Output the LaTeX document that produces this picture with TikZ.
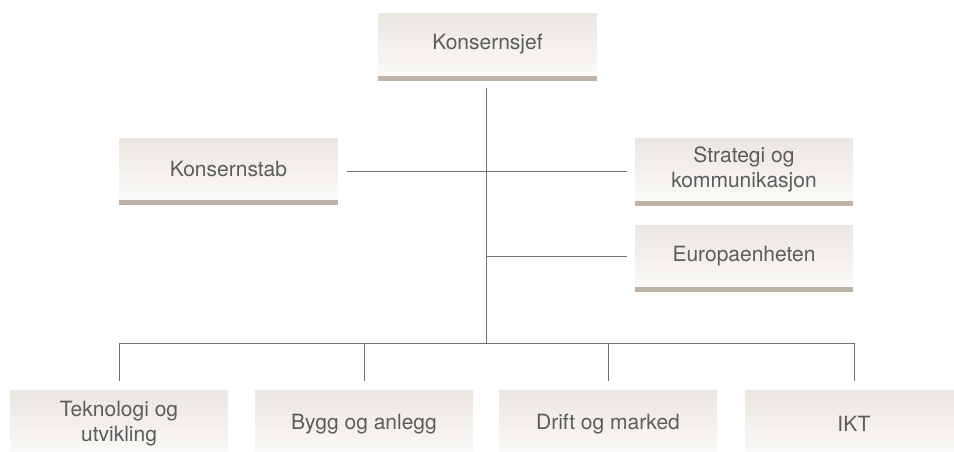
\documentclass[tikz,border=0pt]{standalone}
\usepackage{fontspec}
\setmainfont{TeX Gyre Heros}
\begin{document}
\begin{tikzpicture}[x=1pt,y=-1pt,
  orgbox/.style={minimum width=218pt, minimum height=62pt, inner sep=0pt,
    top color=boxtop, bottom color=boxbot, draw=none, align=center,
    text=txtcol, font=\fontsize{21}{25}\selectfont},
  lowbox/.style={orgbox, minimum height=68pt},
  conn/.style={draw=linecol, line width=0.9pt}]
\definecolor{boxtop}{HTML}{ECE6E1}
\definecolor{boxbot}{HTML}{FBFAF8}
\definecolor{barcol}{HTML}{BEB2A7}
\definecolor{txtcol}{HTML}{5C5C5C}
\definecolor{linecol}{HTML}{707070}
\useasboundingbox (0,0) rectangle (954,451);
\clip (0,0) rectangle (954,451);
% boxes
\node[orgbox] (sjef) at (487.5,44.5) {Konsernsjef};
\node[orgbox] (stab) at (228.5,169) {Konsernstab};
\node[orgbox] (strat) at (744,169.5) {Strategi og\\kommunikasjon};
\node[orgbox] (euro) at (744,256) {Europaenheten};
\node[lowbox] (b1) at (119,424) {Teknologi og\\utvikling};
\node[lowbox] (b2) at (364,424) {Bygg og anlegg};
\node[lowbox] (b3) at (608,424) {Drift og marked};
\node[lowbox] (b4) at (854,424) {IKT};
% bars
\foreach \n in {sjef,stab,strat,euro}
  \fill[barcol] (\n.south west) rectangle ([yshift=-5pt]\n.south east);
% connectors
\coordinate (bus) at (486,343);
\coordinate (hrow) at (486,171);
\coordinate (erow) at (486,256);
\draw[conn, shorten <=12pt] (sjef.south -| bus) -- (bus);
\draw[conn, shorten <=9pt, shorten >=8pt] (stab.east |- hrow) -- (strat.west |- hrow);
\draw[conn, shorten >=8pt] (erow) -- (euro.west);
\draw[conn] (b1.north |- bus) -- (b4.north |- bus);
\foreach \n in {b1,b2,b3,b4}
  \draw[conn, shorten >=9pt] (\n.north |- bus) -- (\n.north);
\end{tikzpicture}
\end{document}
